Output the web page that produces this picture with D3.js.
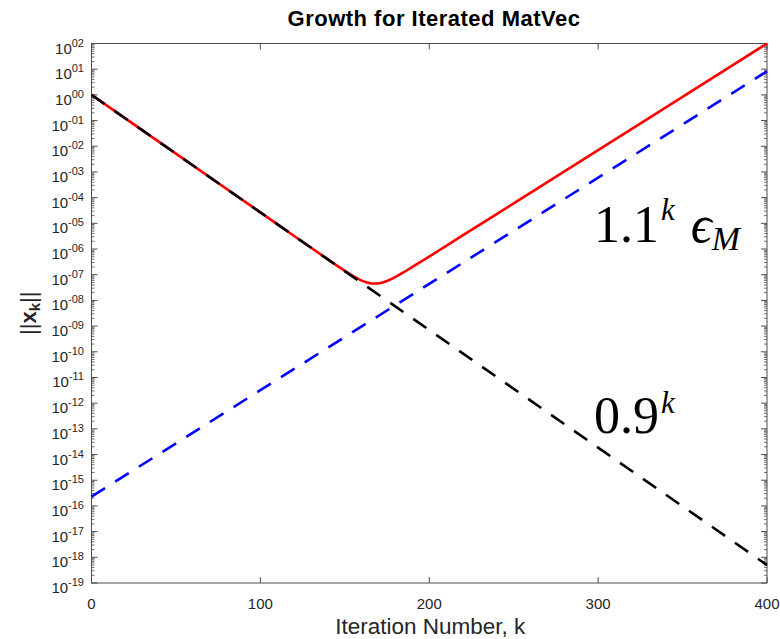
<!DOCTYPE html>
<html lang="en">
<head>
  <meta charset="UTF-8"/>
  <title>Growth for Iterated MatVec</title>
  <script src="https://d3js.org/d3.v7.min.js"></script>
  <style>
    body { margin: 0; background: #fff; }
    svg { display: block; }
    .tick-label { font-family: "Liberation Sans", Arial, sans-serif; fill: #262626; }
    .math { font-family: "Liberation Serif", "DejaVu Serif", serif; fill: #000; }
  </style>
</head>
<body>
<svg id="chart" width="780" height="639"></svg>
<script>
// values
const redK    = [0, 50, 100, 120, 140, 150, 155, 160, 163, 166, 169, 172, 175, 180, 185, 190, 200, 220, 250, 300, 350, 400];
const redNorm = [1.0, 5.15e-3, 2.66e-5, 3.2e-6, 3.95e-7, 1.41e-7, 8.8e-8, 5.9e-8, 5.0e-8, 4.54e-8, 4.52e-8, 4.9e-8,
                 5.7e-8, 8.2e-8, 1.26e-7, 2.0e-7, 5.1e-7, 3.45e-6, 6.0e-5, 7.1e-3, 0.83, 100];
const blackK  = [0, 100, 200, 300, 400];
const blackV  = [1, 2.66e-5, 7.06e-10, 1.87e-14, 4.98e-19];
const blueK   = [0, 100, 200, 300, 400];
const blueV   = [2.3e-16, 3.2e-12, 4.4e-8, 6.0e-4, 8.3];
const xTicks  = [0, 100, 200, 300, 400];
const yExps   = d3.range(-19, 3);   // 10^-19 .. 10^02

const svg = d3.select('#chart');
const L = 91.5, R = 767, T = 43.5, B = 583;

const x = d3.scaleLinear().domain([0, 400]).range([L, R]);
const y = d3.scaleLog().domain([1e-19, 1e2]).range([B, T]);

const axisCol = '#4d4d4d';

// minor log ticks
const minor = [];
yExps.slice(0, -1).forEach(e => { for (let m = 2; m <= 9; m++) minor.push(m * Math.pow(10, e)); });

const g = svg.append('g');

// box
g.append('rect').attr('x', L).attr('y', T).attr('width', R - L).attr('height', B - T)
  .attr('fill', 'none').attr('stroke', axisCol).attr('stroke-width', 1);

// y ticks, both sides, pointing inward
[[L, 1], [R, -1]].forEach(([x0, dir]) => {
  g.selectAll(null).data(yExps).enter().append('line')
    .attr('x1', x0).attr('x2', x0 + dir * 6)
    .attr('y1', d => y(Math.pow(10, d))).attr('y2', d => y(Math.pow(10, d)))
    .attr('stroke', axisCol);
  g.selectAll(null).data(minor).enter().append('line')
    .attr('x1', x0).attr('x2', x0 + dir * 3)
    .attr('y1', d => y(d)).attr('y2', d => y(d))
    .attr('stroke', axisCol).attr('stroke-width', 0.8);
});

// x ticks top and bottom
[[B, -1], [T, 1]].forEach(([y0, dir]) => {
  g.selectAll(null).data(xTicks).enter().append('line')
    .attr('x1', d => x(d)).attr('x2', d => x(d))
    .attr('y1', y0).attr('y2', y0 + dir * 6)
    .attr('stroke', axisCol);
});

// y tick labels 10^ee
const fmtExp = e => (e < 0 ? '-' : '') + String(Math.abs(e)).padStart(2, '0');
const yl = g.selectAll(null).data(yExps).enter().append('text')
  .attr('class', 'tick-label')
  .attr('text-anchor', 'end')
  .attr('x', 84)
  .attr('y', d => y(Math.pow(10, d)) + 10)
  .style('font-size', '15px');
yl.append('tspan').text('10');
yl.append('tspan').attr('dy', -7).style('font-size', '11px').text(d => fmtExp(d));

// x tick labels
g.selectAll(null).data(xTicks).enter().append('text')
  .attr('class', 'tick-label')
  .attr('text-anchor', 'middle')
  .attr('x', d => x(d)).attr('y', 609)
  .style('font-size', '15px')
  .text(d => d);

// lines
const line = d3.line().x(d => x(d[0])).y(d => y(d[1]));
const lineC = d3.line().x(d => x(d[0])).y(d => y(d[1])).curve(d3.curveMonotoneX);

g.append('path').datum(redK.map((k, i) => [k, redNorm[i]]))
  .attr('d', lineC).attr('fill', 'none').attr('stroke', '#ff0000').attr('stroke-width', 2.6);
g.append('path').datum(blackK.map((k, i) => [k, blackV[i]]))
  .attr('d', line).attr('fill', 'none').attr('stroke', '#000').attr('stroke-width', 2.6)
  .attr('stroke-dasharray', '16,12');
g.append('path').datum(blueK.map((k, i) => [k, blueV[i]]))
  .attr('d', line).attr('fill', 'none').attr('stroke', '#0000ff').attr('stroke-width', 2.6)
  .attr('stroke-dasharray', '16,12');

// title
svg.append('text').attr('x', 434).attr('y', 26).attr('text-anchor', 'middle')
  .style('font-family', '"Liberation Sans", Arial, sans-serif').style('font-weight', 'bold')
  .style('font-size', '22px').style('letter-spacing', '0.5px').attr('fill', '#000')
  .text('Growth for Iterated MatVec');

// x label
svg.append('text').attr('x', (L + R) / 2 + 1).attr('y', 634).attr('text-anchor', 'middle')
  .attr('class', 'tick-label').style('font-size', '22.5px')
  .text('Iteration Number, k');

// y label ||x_k||
const ylab = svg.append('text').attr('class', 'tick-label')
  .attr('transform', `translate(36,${(T + B) / 2}) rotate(-90)`)
  .attr('text-anchor', 'middle').style('font-size', '22px');
ylab.append('tspan').text('||');
ylab.append('tspan').style('font-weight', 'bold').text('x');
ylab.append('tspan').style('font-weight', 'bold').style('font-size', '15px').attr('dy', 4).text('k');
ylab.append('tspan').attr('dy', -4).text('||');

// annotations
const a1 = svg.append('text').attr('class', 'math').attr('x', 594).attr('y', 242).style('font-size', '52px');
a1.append('tspan').text('1.1');
a1.append('tspan').attr('dy', -22).attr('dx', 2).style('font-size', '31px').style('font-style', 'italic').text('k');
a1.append('tspan').attr('dy', 22).attr('dx', 16).style('font-style', 'italic').text('\u03f5');
a1.append('tspan').attr('dy', 8).style('font-size', '34px').style('font-style', 'italic').text('M');

const a2 = svg.append('text').attr('class', 'math').attr('x', 594).attr('y', 433).style('font-size', '52px');
a2.append('tspan').text('0.9');
a2.append('tspan').attr('dy', -20).attr('dx', 2).style('font-size', '31px').style('font-style', 'italic').text('k');
</script>
</body>
</html>
